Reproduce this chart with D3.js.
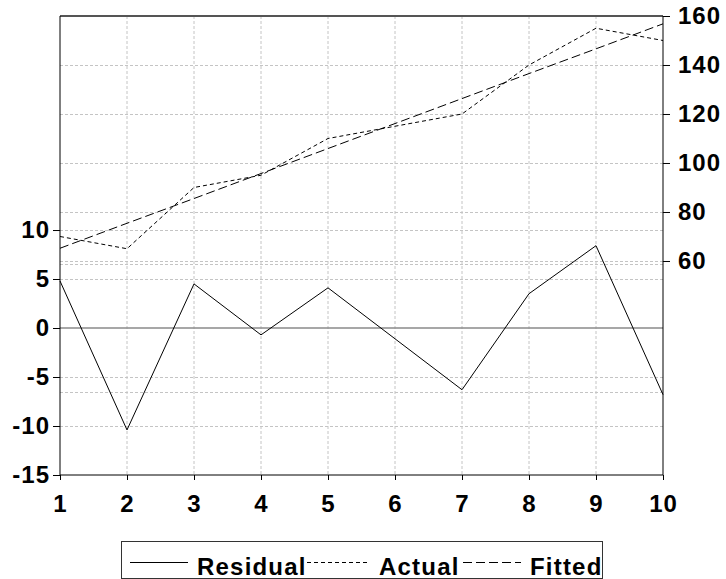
<!DOCTYPE html>
<html>
<head>
<meta charset="utf-8">
<script src="https://cdn.jsdelivr.net/npm/d3@7/dist/d3.min.js"></script>
<style>
  html, body { margin: 0; padding: 0; background: #fff; }
  svg { display: block; }
  text { font-family: "Liberation Sans", Arial, sans-serif; font-weight: bold; fill: #000; }
</style>
</head>
<body>
<svg id="chart" width="726" height="579"></svg>
<script>
// ---- data ----
const periods   = [1, 2, 3, 4, 5, 6, 7, 8, 9, 10];
const actual    = [70, 65, 90, 95, 110, 115, 120, 140, 155, 150];
const fitted    = [65.2, 75.4, 85.5, 95.7, 105.9, 116.1, 126.3, 136.5, 146.6, 156.8];
const residual  = [4.8, -10.4, 4.5, -0.7, 4.1, -1.1, -6.3, 3.5, 8.4, -6.8];
const seBand    = [-6.5, 6.5];
const xTicks    = [1, 2, 3, 4, 5, 6, 7, 8, 9, 10];
const leftTicks = [-15, -10, -5, 0, 5, 10];
const rightTicks= [60, 80, 100, 120, 140, 160];
const legendNames = ["Residual", "Actual", "Fitted"];

// ---- layout ----
const W = 726, H = 579;
const L = 60, R = 663, T = 16, B = 475;

const svg = d3.select("#chart");

const x  = d3.scaleLinear().domain([1, 10]).range([L, R]);
const yL = d3.scaleLinear().domain([-15, 31.84]).range([B, T]);
const yR = d3.scaleLinear().domain([-27.35, 160]).range([B, T]);

const gridColor = "#c4c4c4";

// vertical grid
svg.append("g").selectAll("line")
  .data(xTicks.filter(d => d !== 1 && d !== 10))
  .join("line")
  .attr("x1", d => x(d)).attr("x2", d => x(d))
  .attr("y1", T).attr("y2", B)
  .attr("stroke", gridColor).attr("stroke-width", 1)
  .attr("stroke-dasharray", "3,2");

// horizontal grid - left scale
const hLeft = leftTicks.filter(d => d !== -15 && d !== 0).concat(seBand);
svg.append("g").selectAll("line")
  .data(hLeft)
  .join("line")
  .attr("x1", L).attr("x2", R)
  .attr("y1", d => Math.round(yL(d)) + 0.5).attr("y2", d => Math.round(yL(d)) + 0.5)
  .attr("stroke", gridColor).attr("stroke-width", 1)
  .attr("stroke-dasharray", "3,2");

// horizontal grid - right scale
svg.append("g").selectAll("line")
  .data(rightTicks.filter(d => d !== 160))
  .join("line")
  .attr("x1", L).attr("x2", R)
  .attr("y1", d => Math.round(yR(d)) + 0.5).attr("y2", d => Math.round(yR(d)) + 0.5)
  .attr("stroke", gridColor).attr("stroke-width", 1)
  .attr("stroke-dasharray", "3,2");

// zero line
svg.append("line")
  .attr("x1", L).attr("x2", R)
  .attr("y1", yL(0)).attr("y2", yL(0))
  .attr("stroke", "#8a8a8a").attr("stroke-width", 1.5);

// top border
svg.append("line")
  .attr("x1", L).attr("x2", R)
  .attr("y1", T).attr("y2", T)
  .attr("stroke", "#555").attr("stroke-width", 2);

// ---- series ----
const lineL = d3.line().x((d, i) => x(periods[i])).y(d => yL(d));
const lineR = d3.line().x((d, i) => x(periods[i])).y(d => yR(d));

svg.append("path").datum(actual)
  .attr("d", lineR).attr("fill", "none")
  .attr("stroke", "#000").attr("stroke-width", 1)
  .attr("stroke-dasharray", "4,3");

svg.append("path").datum(fitted)
  .attr("d", lineR).attr("fill", "none")
  .attr("stroke", "#000").attr("stroke-width", 1)
  .attr("stroke-dasharray", "9,4");

svg.append("path").datum(residual)
  .attr("d", lineL).attr("fill", "none")
  .attr("stroke", "#000").attr("stroke-width", 1);

// ---- axes ----
const fontSize = "24px";
const fmt = d => String(d);

const axL = svg.append("g").attr("transform", `translate(${L},0)`)
  .call(d3.axisLeft(yL).tickValues(leftTicks).tickSize(7).tickPadding(3).tickFormat(fmt));
const axR = svg.append("g").attr("transform", `translate(${R},0)`)
  .call(d3.axisRight(yR).tickValues(rightTicks).tickSize(7).tickPadding(8).tickFormat(fmt));
const axB = svg.append("g").attr("transform", `translate(0,${B})`)
  .call(d3.axisBottom(x).tickValues(xTicks).tickSize(5).tickPadding(15).tickFormat(fmt));

[axL, axR, axB].forEach(g => {
  g.select(".domain").remove();
  g.selectAll(".tick line").attr("stroke", "#000");
  g.selectAll("text")
    .attr("font-family", "Liberation Sans, Arial, sans-serif")
    .attr("font-weight", "bold")
    .attr("font-size", fontSize)
    .attr("letter-spacing", "1px")
    .attr("fill", "#000");
});

// axis lines
svg.append("line").attr("x1", L).attr("x2", L).attr("y1", T).attr("y2", B).attr("stroke", "#000");
svg.append("line").attr("x1", R).attr("x2", R).attr("y1", T).attr("y2", B).attr("stroke", "#000");
svg.append("line").attr("x1", L).attr("x2", R).attr("y1", B).attr("y2", B).attr("stroke", "#000");

// ---- legend ----
const lg = svg.append("g");
lg.append("rect")
  .attr("x", 121.5).attr("y", 541.5).attr("width", 481).attr("height", 37)
  .attr("fill", "none").attr("stroke", "#333").attr("stroke-width", 1);

const legendItems = [
  { name: legendNames[0], x1: 130, x2: 188, tx: 197, dash: null },
  { name: legendNames[1], x1: 307, x2: 370, tx: 379, dash: "4,3" },
  { name: legendNames[2], x1: 463, x2: 521, tx: 530, dash: "9,4" }
];
const ly = 562.5;
legendItems.forEach(it => {
  const ln = lg.append("line")
    .attr("x1", it.x1).attr("x2", it.x2).attr("y1", ly).attr("y2", ly)
    .attr("stroke", "#000").attr("stroke-width", 1);
  if (it.dash) ln.attr("stroke-dasharray", it.dash);
  lg.append("text")
    .attr("x", it.tx).attr("y", 575)
    .attr("font-size", fontSize)
    .attr("letter-spacing", "1.2px")
    .text(it.name);
});
</script>
</body>
</html>
